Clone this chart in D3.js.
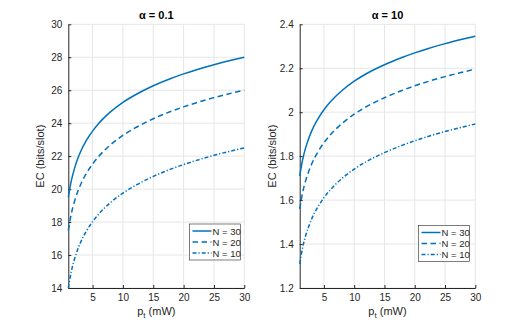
<!DOCTYPE html>
<html>
<head>
<meta charset="utf-8">
<script src="https://cdn.jsdelivr.net/npm/d3@7"></script>
<style>
  body { margin: 0; background: #fff; }
  svg { font-family: "Liberation Sans", Arial, sans-serif; }
  .grid line { stroke: #e6e6e6; stroke-width: 1; }
  .axis path, .axis line { stroke: #262626; }
  .axis text { fill: #262626; font-size: 10px; }
  .lbl { fill: #262626; font-size: 11px; }
  .title { fill: #000; font-size: 11px; font-weight: bold; }
</style>
</head>
<body>
<svg></svg>
<script>
// power values (mW)
var pt = [1, 1.5, 2, 2.5, 3, 4, 5, 6, 7, 8, 10, 12, 15, 18, 20, 22, 25, 28, 30];

// alpha = 0.1
var ecA01_N30 = [19.5, 20.51, 21.23, 21.79, 22.25, 22.97, 23.52, 23.98, 24.37, 24.70, 25.26, 25.71, 26.27, 26.73, 26.99, 27.23, 27.55, 27.83, 28.0];
var ecA01_N20 = [17.5, 18.51, 19.23, 19.79, 20.25, 20.97, 21.52, 21.98, 22.37, 22.70, 23.26, 23.71, 24.27, 24.73, 24.99, 25.23, 25.55, 25.83, 26.0];
var ecA01_N10 = [14.0, 15.01, 15.73, 16.29, 16.75, 17.47, 18.02, 18.48, 18.87, 19.20, 19.76, 20.21, 20.77, 21.23, 21.49, 21.73, 22.05, 22.33, 22.5];

// alpha = 10
var ecA10_N30 = [1.71, 1.786, 1.84, 1.881, 1.916, 1.969, 2.011, 2.045, 2.074, 2.099, 2.141, 2.175, 2.216, 2.25, 2.27, 2.288, 2.312, 2.333, 2.346];
var ecA10_N20 = [1.56, 1.636, 1.69, 1.731, 1.766, 1.819, 1.861, 1.895, 1.924, 1.949, 1.991, 2.025, 2.066, 2.10, 2.12, 2.138, 2.162, 2.183, 2.196];
var ecA10_N10 = [1.31, 1.386, 1.44, 1.481, 1.516, 1.569, 1.611, 1.645, 1.674, 1.699, 1.741, 1.775, 1.816, 1.85, 1.87, 1.888, 1.912, 1.933, 1.946];

var seriesNames = ["N = 30", "N = 20", "N = 10"];
var xTicks = [5, 10, 15, 20, 25, 30];
var yTicksA01 = [14, 16, 18, 20, 22, 24, 26, 28, 30];
var yTicksA10 = [1.2, 1.4, 1.6, 1.8, 2, 2.2, 2.4];

var width = 526, height = 324;
var svg = d3.select("svg").attr("width", width).attr("height", height);

var color = "#0072BD";
var dashes = [null, "5.5,3.5", "4,2,1.2,2"];

function drawPanel(opt) {
    var x = d3.scaleLinear().domain([1, 30]).range([opt.left, opt.right]);
    var y = d3.scaleLinear().domain(opt.yDomain).range([288, 24.3]);
    var g = svg.append("g");

    // grid
    var grid = g.append("g").attr("class", "grid");
    grid.selectAll(".gx").data(xTicks).enter().append("line")
        .attr("x1", function(d){ return x(d); }).attr("x2", function(d){ return x(d); })
        .attr("y1", y.range()[0]).attr("y2", y.range()[1]);
    grid.selectAll(".gy").data(opt.yTicks).enter().append("line")
        .attr("y1", function(d){ return y(d); }).attr("y2", function(d){ return y(d); })
        .attr("x1", x.range()[0]).attr("x2", x.range()[1]);

    // axes (ticks inward like matlab)
    var xAxis = d3.axisBottom(x).tickValues(xTicks).tickSizeInner(-3).tickSizeOuter(0).tickPadding(6);
    var yAxis = d3.axisLeft(y).tickValues(opt.yTicks).tickSizeInner(-3).tickSizeOuter(0).tickPadding(6)
        .tickFormat(d3.format("~g"));
    g.append("g").attr("class", "axis").attr("transform", "translate(0,288)").call(xAxis);
    g.append("g").attr("class", "axis").attr("transform", "translate(" + opt.left + ",0)").call(yAxis);

    // lines
    var line = d3.line()
        .x(function(d){ return x(d[0]); })
        .y(function(d){ return y(d[1]); })
        .curve(d3.curveMonotoneX);
    opt.series.forEach(function(s, i) {
        g.append("path")
            .datum(pt.map(function(p, j){ return [p, s[j]]; }))
            .attr("d", line)
            .attr("fill", "none")
            .attr("stroke", color)
            .attr("stroke-width", 1.5)
            .attr("stroke-dasharray", dashes[i]);
    });

    // title
    var mid = (opt.left + opt.right) / 2;
    var t = g.append("text").attr("class", "title").attr("x", mid).attr("y", 19)
        .attr("text-anchor", "middle");
    t.append("tspan").text("\u03b1");
    t.append("tspan").text(" = " + opt.alpha);

    // axis labels
    var xl = g.append("text").attr("class", "lbl").attr("x", mid).attr("y", 315)
        .attr("text-anchor", "middle");
    xl.append("tspan").text("p");
    xl.append("tspan").attr("dy", 3).style("font-size", "8px").text("t");
    xl.append("tspan").attr("dy", -3).text(" (mW)");

    g.append("text").attr("class", "lbl")
        .attr("transform", "translate(" + (opt.left - 24) + "," + ((24.3 + 288) / 2) + ") rotate(-90)")
        .attr("text-anchor", "middle")
        .text("EC (bits/slot)");

    // legend
    var lg = g.append("g").attr("transform", "translate(" + opt.legX + "," + opt.legY + ")");
    lg.append("rect").attr("width", 51).attr("height", 36)
        .attr("fill", "#fff").attr("stroke", "#262626").attr("stroke-width", 0.6);
    seriesNames.forEach(function(n, i) {
        var yy = 7 + i * 11;
        lg.append("line").attr("x1", 3).attr("x2", 22).attr("y1", yy).attr("y2", yy)
            .attr("stroke", color).attr("stroke-width", 1.5)
            .attr("stroke-dasharray", dashes[i]);
        lg.append("text").attr("x", 23).attr("y", yy + 3.5)
            .style("font-size", "9.5px").attr("fill", "#262626").text(n);
    });
}

drawPanel({left: 68.3, right: 244.3, yDomain: [14, 30], yTicks: yTicksA01,
    series: [ecA01_N30, ecA01_N20, ecA01_N10], alpha: "0.1", legX: 189.5, legY: 224});
drawPanel({left: 299.7, right: 475.3, yDomain: [1.2, 2.4], yTicks: yTicksA10,
    series: [ecA10_N30, ecA10_N20, ecA10_N10], alpha: "10", legX: 418.5, legY: 225.5});
</script>
</body>
</html>
